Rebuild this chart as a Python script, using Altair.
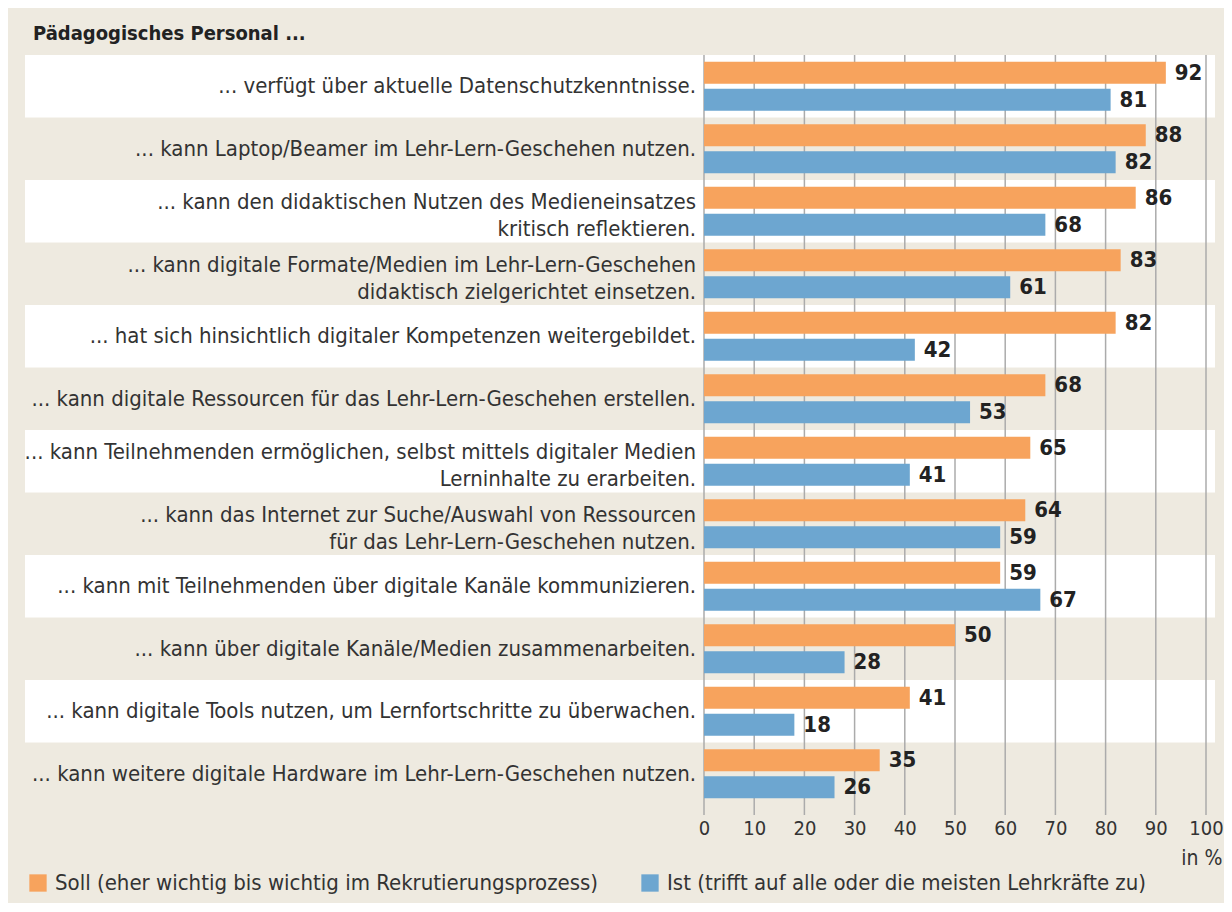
import altair as alt
import pandas as pd

labels = [
    "... verfügt über aktuelle Datenschutzkenntnisse.",
    "... kann Laptop/Beamer im Lehr-Lern-Geschehen nutzen.",
    "... kann den didaktischen Nutzen des Medieneinsatzes\nkritisch reflektieren.",
    "... kann digitale Formate/Medien im Lehr-Lern-Geschehen\ndidaktisch zielgerichtet einsetzen.",
    "... hat sich hinsichtlich digitaler Kompetenzen weitergebildet.",
    "... kann digitale Ressourcen für das Lehr-Lern-Geschehen erstellen.",
    "... kann Teilnehmenden ermöglichen, selbst mittels digitaler Medien\nLerninhalte zu erarbeiten.",
    "... kann das Internet zur Suche/Auswahl von Ressourcen\nfür das Lehr-Lern-Geschehen nutzen.",
    "... kann mit Teilnehmenden über digitale Kanäle kommunizieren.",
    "... kann über digitale Kanäle/Medien zusammenarbeiten.",
    "... kann digitale Tools nutzen, um Lernfortschritte zu überwachen.",
    "... kann weitere digitale Hardware im Lehr-Lern-Geschehen nutzen.",
]
soll = [92, 88, 86, 83, 82, 68, 65, 64, 59, 50, 41, 35]
ist = [81, 82, 68, 61, 42, 53, 41, 59, 67, 28, 18, 26]
series_names = [
    "Soll (eher wichtig bis wichtig im Rekrutierungsprozess)",
    "Ist (trifft auf alle oder die meisten Lehrkräfte zu)",
]
series_colors = ["#F7A35D", "#6DA6D0"]
ticks = [0, 10, 20, 30, 40, 50, 60, 70, 80, 90, 100]
title_text = "Pädagogisches Personal ..."

FONT = "DejaVu Sans Condensed, Roboto, sans-serif"

rows = []
for lab, s, i in zip(labels, soll, ist):
    rows.append({"label": lab, "series": series_names[0], "value": s})
    rows.append({"label": lab, "series": series_names[1], "value": i})
df = pd.DataFrame(rows)

band_df = pd.DataFrame({"label": labels, "white": [k % 2 == 0 for k in range(len(labels))]})
band_df = band_df[band_df["white"]]
single_df = pd.DataFrame({"label": [l for l in labels if "\n" not in l]})
multi_df = pd.DataFrame({"label": [l for l in labels if "\n" in l]})
tick_df = pd.DataFrame({"t": ticks})

yscale = alt.Scale(domain=labels, paddingInner=0, paddingOuter=0)
xscale = alt.Scale(domain=[0, 100], nice=False)

bands = alt.Chart(band_df).mark_rect(color="white").encode(
    y=alt.Y("label:N", scale=yscale, axis=None),
    x=alt.value(-679),
    x2=alt.value(511),
)

grid = alt.Chart(tick_df).mark_rule(color="#ABABAB", strokeWidth=1.5).encode(
    x=alt.X("t:Q", scale=xscale,
            axis=alt.Axis(values=ticks, grid=False, ticks=False, domain=False,
                          labelFlush=False, labelOverlap=False,
                          labelFontSize=20, labelFont=FONT, labelColor="#333333",
                          labelPadding=13, title="in %", titleFont=FONT,
                          titleFontSize=21, titleFontWeight="normal",
                          titleColor="#333333", titleAlign="right",
                          titleBaseline="middle", titleX=518, titleY=53)),
    y=alt.value(0),
    y2=alt.value(760),
)

label_style = dict(align="right", baseline="middle", lineBreak="\n", lineHeight=27,
                   fontSize=22, font=FONT, color="#333333", dx=-8)

ylabels_single = alt.Chart(single_df).mark_text(**label_style).encode(
    y=alt.Y("label:N", scale=yscale, axis=None),
    x=alt.value(0),
    text="label:N",
)
ylabels_multi = alt.Chart(multi_df).mark_text(dy=-9, **label_style).encode(
    y=alt.Y("label:N", scale=yscale, axis=None),
    x=alt.value(0),
    text="label:N",
)

yoff = alt.YOffset("series:N", sort=series_names,
                   scale=alt.Scale(domain=series_names, paddingInner=0.185, paddingOuter=0.25))

bars = alt.Chart(df).mark_bar().encode(
    y=alt.Y("label:N", scale=yscale, axis=None),
    yOffset=yoff,
    x=alt.X("value:Q", scale=xscale),
    color=alt.Color(
        "series:N",
        scale=alt.Scale(domain=series_names, range=series_colors),
        legend=alt.Legend(
            title=None, orient="none", legendX=-677, legendY=817,
            direction="horizontal", symbolType="square", symbolSize=300,
            symbolStrokeWidth=0, labelFontSize=22, labelFont=FONT,
            labelColor="#333333", labelLimit=1000, columnPadding=40,
            labelOffset=6,
        ),
    ),
)

values = alt.Chart(df).mark_text(
    align="left", baseline="middle", dx=9, fontSize=22, fontWeight="bold",
    font=FONT, color="#222222",
).encode(
    y=alt.Y("label:N", scale=yscale, axis=None),
    yOffset=yoff,
    x=alt.X("value:Q", scale=xscale),
    text="value:Q",
)

chart = alt.layer(bands, grid, ylabels_single, ylabels_multi, bars, values).properties(
    width=502,
    height=750,
    autosize=alt.AutoSizeParams(type="none"),
    padding={"left": 696, "top": 47, "right": 18, "bottom": 98},
    background="#EEEAE0",
    title=alt.TitleParams(
        title_text, anchor="start", frame="group", dx=-671, offset=10,
        fontSize=20, fontWeight="bold", font=FONT, color="#222222",
    ),
).configure_view(stroke=None)

chart.save("out.html", embed_options={"renderer": "svg", "actions": False})
